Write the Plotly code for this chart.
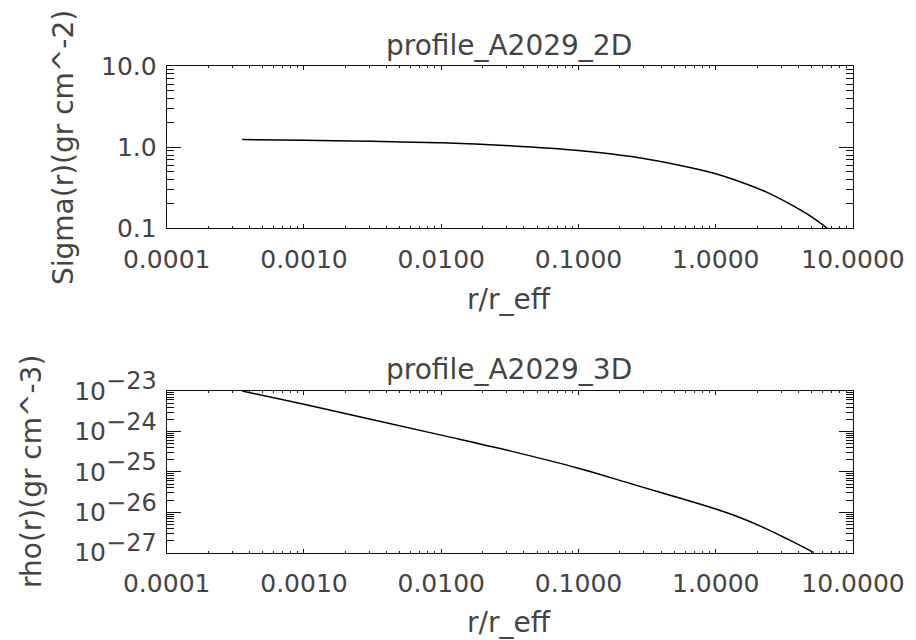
import plotly.graph_objects as go

# ---- data ----
r_2d = [3.55e-4, 1e-3, 3.16e-3, 1e-2, 3.16e-2, 0.1, 0.25, 0.5, 1.0, 1.5, 2.3, 3.4, 4.75, 6.5]
sigma_2d = [1.24, 1.22, 1.18, 1.135, 1.04, 0.91, 0.76, 0.615, 0.47, 0.375, 0.283, 0.203, 0.146, 0.100]

r_3d = [3.55e-4, 1e-3, 1e-2, 3.16e-2, 0.1, 0.25, 0.5, 1.0, 1.5, 2.3, 3.4, 5.2]
rho_3d = [1.0e-23, 4.68e-24, 8.1e-25, 3.3e-25, 1.23e-25, 4.9e-26, 2.45e-26, 1.2e-26,
          7.4e-27, 4.0e-27, 2.1e-27, 1.0e-27]

x_tickvals = [1e-4, 1e-3, 1e-2, 1e-1, 1, 10]
x_ticktext = ["0.0001", "0.0010", "0.0100", "0.1000", "1.0000", "10.0000"]
y2d_tickvals = [0.1, 1, 10]
y2d_ticktext = ["0.1", "1.0", "10.0"]
y3d_tickvals = [1e-27, 1e-26, 1e-25, 1e-24, 1e-23]
y3d_exponents = ["27", "26", "25", "24", "23"]
y3d_ticktext = ["10<sup><span style='font-size:24px'>\u2212" + e + "</span></sup>" for e in y3d_exponents]

title_2d = "profile_A2029_2D"
title_3d = "profile_A2029_3D"
xlabel = "r/r_eff"
ylabel_2d = "Sigma(r)(gr cm^-2)"
ylabel_3d = "rho(r)(gr cm^-3)"

FONT = "DejaVu Sans ExtraLight, DejaVu Sans"
TXT = "#444444"
LINE = "#111111"
FS = 25
FS_T = 28

fig = go.Figure()
fig.add_trace(go.Scatter(x=r_2d, y=sigma_2d, mode="lines",
                         line=dict(color="black", width=1.5, shape="spline"),
                         xaxis="x", yaxis="y", showlegend=False))
fig.add_trace(go.Scatter(x=r_3d, y=rho_3d, mode="lines",
                         line=dict(color="black", width=1.5, shape="spline"),
                         xaxis="x2", yaxis="y2", showlegend=False))

common = dict(type="log", showline=True, linecolor=LINE, linewidth=1, mirror="allticks",
              ticks="inside", tickcolor=LINE, tickwidth=1, showgrid=False, zeroline=False,
              tickfont=dict(family=FONT, size=FS, color=TXT), automargin=False)

xdom = [166.7 / 916, 853 / 916]

fig.update_layout(
    width=916, height=640,
    margin=dict(l=0, r=0, t=0, b=0),
    paper_bgcolor="white", plot_bgcolor="white",
    font=dict(family=FONT, size=FS, color=TXT),
    xaxis=dict(common, domain=xdom, range=[-4, 1], anchor="y",
               tickmode="array", tickvals=x_tickvals, ticktext=x_ticktext, ticklen=4,
               ticklabelstandoff=9,
               minor=dict(ticks="inside", ticklen=2, dtick="D1", tickcolor=LINE, showgrid=False)),
    yaxis=dict(common, domain=[(640 - 228.3) / 640, (640 - 66) / 640], range=[-1, 1], anchor="x",
               tickmode="array", tickvals=y2d_tickvals, ticktext=y2d_ticktext, ticklen=14,
               ticklabelstandoff=4,
               minor=dict(ticks="inside", ticklen=7, dtick="D1", tickcolor=LINE, showgrid=False)),
    xaxis2=dict(common, domain=xdom, range=[-4, 1], anchor="y2",
                tickmode="array", tickvals=x_tickvals, ticktext=x_ticktext, ticklen=4,
                ticklabelstandoff=8,
                minor=dict(ticks="inside", ticklen=2, dtick="D1", tickcolor=LINE, showgrid=False)),
    yaxis2=dict(common, domain=[(640 - 552.7) / 640, (640 - 391) / 640], range=[-27, -23], anchor="x2",
                tickmode="array", tickvals=y3d_tickvals, ticktext=y3d_ticktext, ticklen=14,
                ticklabelstandoff=4,
                minor=dict(ticks="inside", ticklen=7, dtick="D1", tickcolor=LINE, showgrid=False)),
)

def ann(text, x, y, angle=0, size=FS):
    fig.add_annotation(text=text, x=x / 916, y=(640 - y) / 640, xref="paper", yref="paper",
                       showarrow=False, xanchor="center", yanchor="middle", textangle=angle,
                       font=dict(family=FONT, size=size, color=TXT))

ann(title_2d, 509, 45, size=FS_T)
ann(title_3d, 509, 369, size=FS_T)
ann(xlabel, 509, 299, size=FS_T)
ann(xlabel, 509, 622, size=FS_T)
ann(ylabel_2d, 64, 148, -90, size=FS_T)
ann(ylabel_3d, 31, 472, -90, size=FS_T)

fig.write_html("out.html", config={"displayModeBar": False},
               post_script="document.body.style.margin='0';")
